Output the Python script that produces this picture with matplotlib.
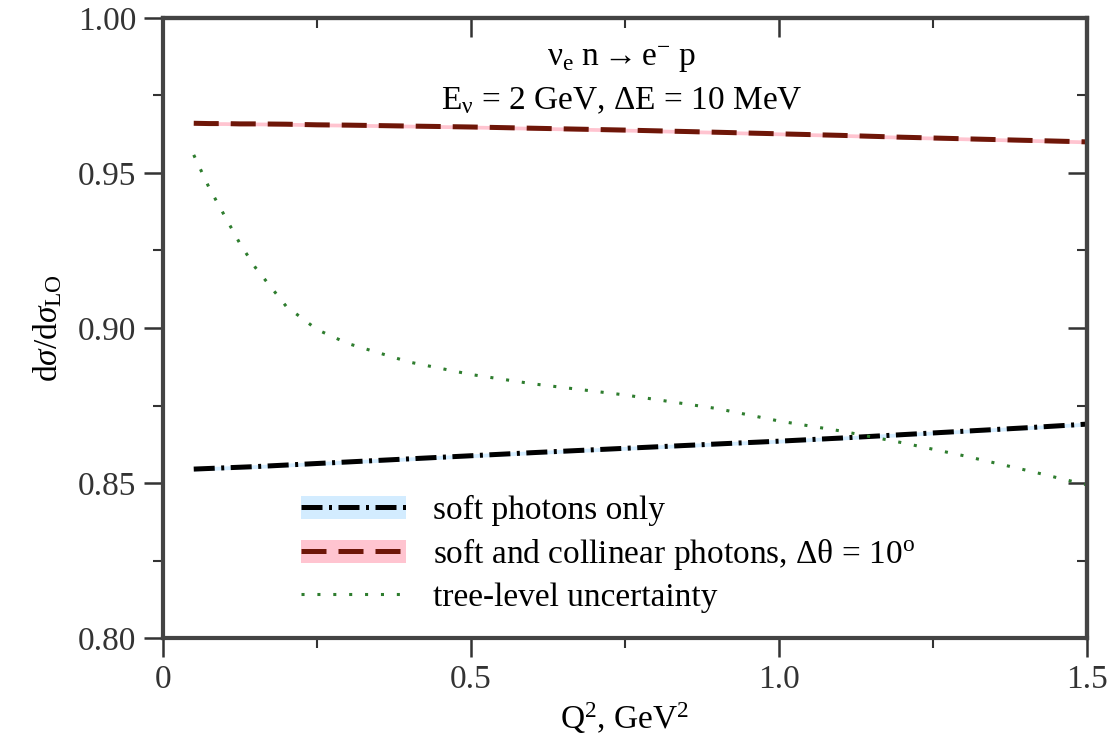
import numpy as np
import matplotlib
matplotlib.use("Agg")
import matplotlib.pyplot as plt
from matplotlib.lines import Line2D
from matplotlib.patches import Patch
from matplotlib.ticker import MultipleLocator

plt.rcParams['font.family'] = ['Liberation Serif', 'DejaVu Serif']
plt.rcParams['mathtext.fontset'] = 'custom'
plt.rcParams['mathtext.rm'] = 'Liberation Serif'
plt.rcParams['mathtext.it'] = 'Liberation Serif:italic'

# ===== Dati =====
Q2 = np.array([0.05, 0.075, 0.1, 0.125, 0.15, 0.2, 0.25, 0.3, 0.4, 0.5,
               0.6, 0.75, 0.9, 1.0, 1.1, 1.2, 1.3, 1.4, 1.5])

soft = np.array([0.8545, 0.8547, 0.8549, 0.8551, 0.8553, 0.8558, 0.8563, 0.8568,
                 0.8578, 0.8588, 0.8598, 0.8612, 0.8626, 0.8635, 0.8645,
                 0.8656, 0.8667, 0.8678, 0.8690])

collinear = np.array([0.9660, 0.9659, 0.9659, 0.9658, 0.9658, 0.9657, 0.9655, 0.9654,
                      0.9651, 0.9648, 0.9644, 0.9638, 0.9631, 0.9626, 0.9621,
                      0.9615, 0.9610, 0.9605, 0.9600])

tree = np.array([0.9558, 0.9452, 0.9362, 0.9272, 0.9195, 0.9070, 0.8995, 0.8950,
                 0.8890, 0.8850, 0.8820, 0.8784, 0.8740, 0.8700, 0.8668,
                 0.8630, 0.8588, 0.8542, 0.8494])

band = 0.0006
fs = 24

# ===== Grafico =====
fig = plt.figure(figsize=(11.16, 7.42), dpi=100)
ax = fig.add_axes([0.146, 0.140, 0.828, 0.836])

ax.fill_between(Q2, soft - band, soft + band, color='#d3ecff', lw=0)
ax.fill_between(Q2, collinear - band, collinear + band, color='#ffc4d0', lw=0)

ax.plot(Q2, soft, color='black', lw=3.6, dashes=(4.2, 1.3, 0.6, 1.3))
ax.plot(Q2, collinear, color='#6e1608', lw=3.6, dashes=(5, 2.4))
ax.plot(Q2, tree, color='#2e7d2e', lw=2.2, dashes=(1, 4.2))

ax.text(0.745, 0.9865, r'$\mathrm{\nu_e\ n \rightarrow e^{-}\ p}$',
        ha='center', va='center', fontsize=fs)
ax.text(0.745, 0.9732, r'$\mathrm{E_\nu}$ = 2 GeV, $\Delta$E = 10 MeV',
        ha='center', va='center', fontsize=fs)

# Legenda
h_soft = (Patch(color='#d3ecff', lw=0), Line2D([], [], color='black', lw=3.6, dashes=(4.2, 1.3, 0.6, 1.3)))
h_coll = (Patch(color='#ffc4d0', lw=0), Line2D([], [], color='#6e1608', lw=3.6, dashes=(5, 2.4)))
h_tree = Line2D([], [], color='#2e7d2e', lw=2.2, dashes=(1, 4.2))
ax.legend([h_soft, h_coll, h_tree],
          ['soft photons only',
           'soft and collinear photons, \u0394\u03b8 = 10$^{\\mathrm{o}}$',
           'tree-level uncertainty'],
          loc='upper left', bbox_to_anchor=(0.117, 0.279), frameon=False,
          fontsize=fs, handlelength=3.15, handletextpad=0.8, labelspacing=0.30)

# ===== Assi e stile =====
ax.set_xlim(0, 1.5)
ax.set_ylim(0.80, 1.00)
ax.set_xticks([0, 0.5, 1.0, 1.5])
ax.set_xticklabels(['0', '0.5', '1.0', '1.5'])
ax.set_yticks([0.80, 0.85, 0.90, 0.95, 1.00])
ax.set_yticklabels(['0.80', '0.85', '0.90', '0.95', '1.00'])
ax.xaxis.set_minor_locator(MultipleLocator(0.25))
ax.yaxis.set_minor_locator(MultipleLocator(0.025))
ax.tick_params(which='major', direction='out', length=14, width=1.8, labelsize=fs,
               colors='#333333', pad=5)
ax.tick_params(which='minor', direction='out', length=7, width=1.5, colors='#333333')

top = ax.secondary_xaxis('top')
top.set_xticks([0, 0.5, 1.0, 1.5])
top.xaxis.set_minor_locator(MultipleLocator(0.25))
top.tick_params(which='major', direction='in', length=14, width=1.8, labeltop=False, colors='#333333')
top.tick_params(which='minor', direction='in', length=7, width=1.5, colors='#333333')
right = ax.secondary_yaxis('right')
right.set_yticks([0.80, 0.85, 0.90, 0.95, 1.00])
right.yaxis.set_minor_locator(MultipleLocator(0.025))
right.tick_params(which='major', direction='in', length=14, width=1.8, labelright=False, colors='#333333')
right.tick_params(which='minor', direction='in', length=7, width=1.5, colors='#333333')

for s in list(ax.spines.values()) + [top.spines['top'], right.spines['right']]:
    s.set_linewidth(3)
    s.set_color('#444444')

ax.set_xlabel(r'Q$^2$, GeV$^2$', fontsize=fs, labelpad=4)
ax.set_ylabel(r'd$\sigma$/d$\sigma_{\mathrm{LO}}$', fontsize=fs, labelpad=10)

fig.savefig('out.png', dpi=100)
